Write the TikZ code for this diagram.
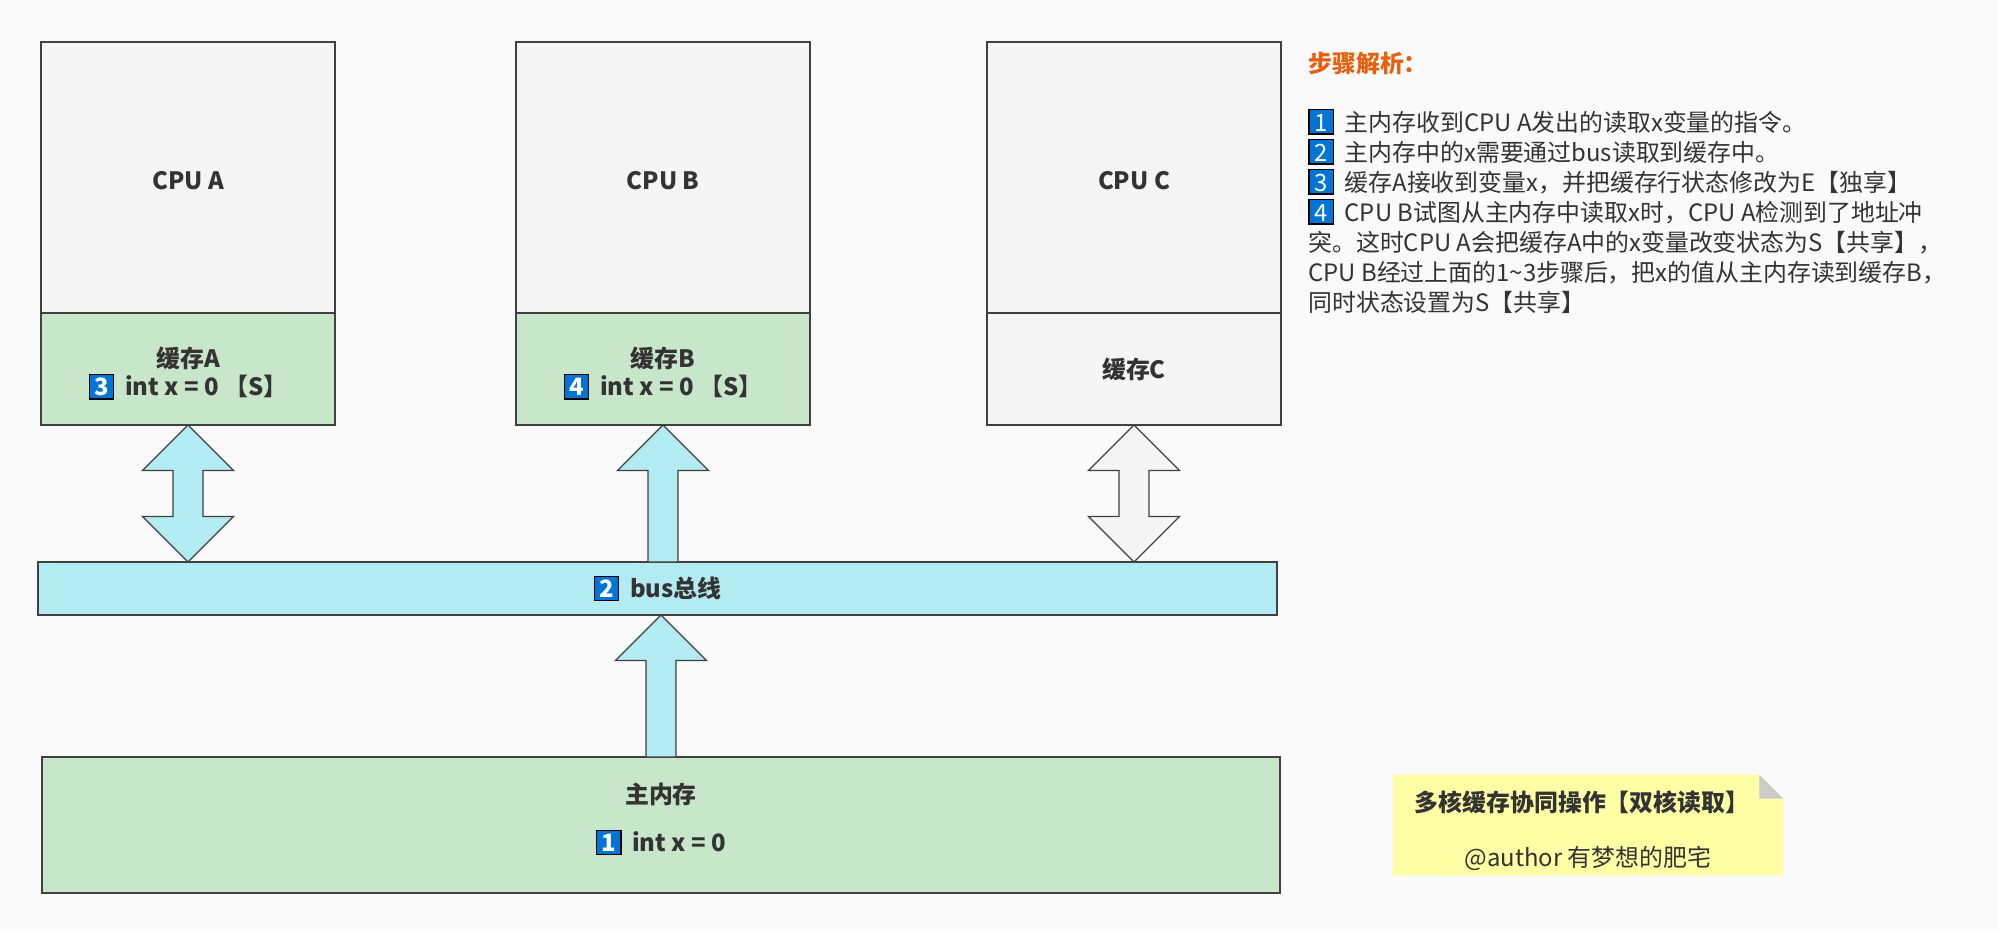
\documentclass[tikz,border=0pt]{standalone}
\usepackage{fontspec}
\setmainfont{Noto Sans CJK SC}
\usetikzlibrary{positioning,calc}

\definecolor{bgcol}{HTML}{FAFAFA}
\definecolor{linecol}{HTML}{404040}
\definecolor{txtcol}{HTML}{333333}
\definecolor{cpugray}{HTML}{F5F5F5}
\definecolor{cachegreen}{HTML}{C8E6C9}
\definecolor{buscyan}{HTML}{B2EBF2}
\definecolor{numblue}{HTML}{0075D6}
\definecolor{steporange}{HTML}{E6600F}
\definecolor{noteyellow}{HTML}{FFFFA6}
\definecolor{foldgray}{HTML}{CCCCCC}

% blue step number
\newcommand{\stepno}[1]{{\setlength{\fboxsep}{0pt}\setlength{\fboxrule}{0.8pt}%
  \fcolorbox{black}{numblue}{\makebox[13.1pt]{\rule[-1.35pt]{0pt}{13.1pt}\textcolor{white}{#1}}}}}

% fat arrows: fill, tip (top), bottom
\newcommand{\blockboth}[3]{%
  \draw[arrowline, fill=#1] let \p1=#2, \p2=#3 in
    (\x1,\y1) -- (\x1+0.91cm,\y1-0.91cm) -- (\x1+0.3cm,\y1-0.91cm) -- (\x1+0.3cm,\y2+0.91cm)
    -- (\x1+0.91cm,\y2+0.91cm) -- (\x1,\y2) -- (\x1-0.91cm,\y2+0.91cm) -- (\x1-0.3cm,\y2+0.91cm)
    -- (\x1-0.3cm,\y1-0.91cm) -- (\x1-0.91cm,\y1-0.91cm) -- cycle;}
\newcommand{\blockup}[3]{%
  \draw[arrowline, fill=#1] let \p1=#2, \p2=#3 in
    (\x1,\y1) -- (\x1+0.91cm,\y1-0.91cm) -- (\x1+0.3cm,\y1-0.91cm) -- (\x1+0.3cm,\y2)
    -- (\x1-0.3cm,\y2) -- (\x1-0.3cm,\y1-0.91cm) -- (\x1-0.91cm,\y1-0.91cm) -- cycle;}

\tikzset{
  unit/.style={draw=linecol, line width=1.1pt, inner sep=0pt, outer sep=0pt, text=txtcol,
    align=center, font=\bfseries\fontsize{13.6}{16.4}\selectfont},
  cpubox/.style={unit, fill=cpugray, minimum width=5.88cm, minimum height=5.42cm, text height=14.2pt, text depth=0pt},
  cachebox/.style={unit, fill=cachegreen, minimum width=5.88cm, minimum height=2.24cm},
  steptext/.style={anchor=base west, inner sep=0pt, text=txtcol, font=\fontsize{13.6}{17}\selectfont},
  arrowline/.style={draw=linecol, line width=0.75pt, line join=miter},
}

\begin{document}
\begin{tikzpicture}[x=0.02cm, y=-0.02cm]
\fill[bgcol] (0,0) rectangle (1998,931);

% cores and caches
\node[cpubox] (cpuA) at (188,177.5) {CPU A};
\node[cachebox, below=0pt of cpuA] (cacheA) {\rule{0pt}{16.4pt}缓存A\\\stepno{3}\hspace{6pt}int x = 0 【S】};
\node[cpubox] (cpuB) at (663,177.5) {CPU B};
\node[cachebox, below=0pt of cpuB] (cacheB) {\rule{0pt}{16.4pt}缓存B\\\stepno{4}\hspace{6pt}int x = 0 【S】};
\node[cpubox] (cpuC) at (1134,177.5) {CPU C};
\node[cachebox, fill=cpugray, below=0pt of cpuC] (cacheC) {缓存C};

% bus and memory
\node[unit, fill=buscyan, minimum width=24.8cm, minimum height=1.06cm] (bus) at (657.5,588.5) {\stepno{2}\hspace{6pt}bus总线};
\node[unit, fill=cachegreen, minimum width=24.76cm, minimum height=2.72cm] (mem) at (661,825) {主内存\\[10.8pt]\stepno{1}\hspace{6pt}int x = 0\rule[-8.5pt]{0pt}{1pt}};

\blockboth{buscyan}{(cacheA.south)}{(bus.north -| cacheA.south)}
\blockup{buscyan}{(cacheB.south)}{(bus.north -| cacheB.south)}
\blockboth{cpugray}{(cacheC.south)}{(bus.north -| cacheC.south)}
\blockup{buscyan}{(bus.south -| mem.north)}{(mem.north)}

% steps
\node[anchor=base west, inner sep=0pt, text=steporange, font=\bfseries\fontsize{13.6}{17}\selectfont] (stepTitle) at (1308,72) {步骤解析：};
\node[steptext] (step1) at (1308,131) {\stepno{1}\hspace{6pt}主内存收到CPU A发出的读取x变量的指令。};
\node[steptext] (step2) at (1308,161) {\stepno{2}\hspace{6pt}主内存中的x需要通过bus读取到缓存中。};
\node[steptext] (step3) at (1308,191) {\stepno{3}\hspace{6pt}缓存A接收到变量x，并把缓存行状态修改为E【独享】};
\node[steptext] (step4) at (1308,221) {\stepno{4}\hspace{6pt}CPU B试图从主内存中读取x时，CPU A检测到了地址冲};
\node[steptext] (step5) at (1308,251) {突。这时CPU A会把缓存A中的x变量改变状态为S【共享】，};
\node[steptext] (step6) at (1308,281) {CPU B经过上面的1\textasciitilde 3步骤后，把x的值从主内存读到缓存B，};
\node[steptext] (step7) at (1308,311) {同时状态设置为S【共享】};

% note
\node[minimum width=7.8cm, minimum height=2cm, inner sep=0pt] (note) at (1588,825) {};
\fill[noteyellow] (note.north west) -- ($(note.north east)+(-24,0)$) -- ($(note.north east)+(0,24)$) -- (note.south east) -- (note.south west) -- cycle;
\fill[foldgray] ($(note.north east)+(-24,0)$) -- ($(note.north east)+(0,24)$) -- ($(note.north east)+(-24,24)$) -- cycle;
\node[text=txtcol, font=\bfseries\fontsize{13.6}{17}\selectfont] (noteTitle) at (1582,802) {多核缓存协同操作【双核读取】};
\node[text=txtcol, font=\fontsize{13.6}{17}\selectfont] (noteAuthor) at (1588,858) {@author 有梦想的肥宅};
\end{tikzpicture}
\end{document}
